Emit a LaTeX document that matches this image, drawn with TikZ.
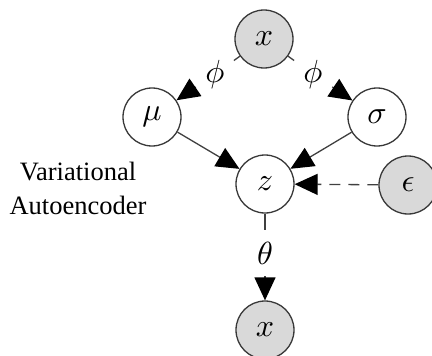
\documentclass[tikz,border=0pt]{standalone}
\usepackage{fontspec}
\setmainfont{Liberation Serif}
\usetikzlibrary{arrows.meta}
\newcommand{\mysym}[1]{\scalebox{3.2}{$#1$}}
\begin{document}
\begin{tikzpicture}[x=1pt,y=-1pt,
  var/.style={circle, draw=black!78, line width=1.3pt, minimum size=58pt, inner sep=0pt},
  obs/.style={var, fill=black!15},
  lat/.style={var, fill=white},
  plain/.style={draw=black!75, line width=1.3pt},
  edge/.style={plain, -{Triangle[length=23pt,width=21pt,black]}},
  lbl/.style={circle, minimum size=46pt, inner sep=0pt},
]
\useasboundingbox (0,0) rectangle (432,356);
\node[obs] (x) at (264,39) {\mysym{x}};
\node[lat] (mu) at (152,117) {\mysym{\mu}};
\node[lat] (sigma) at (377,117) {\mysym{\sigma}};
\node[lat] (z) at (265,184) {\mysym{z}};
\node[obs] (eps) at (408,185) {\mysym{\epsilon}};
\node[obs] (xo) at (265,330) {\mysym{x}};
\node[align=center, font=\fontsize{26.5}{34}\selectfont] (t) at (78,188) {Variational\\Autoencoder};

\node[lbl] (p1) at (215,74) {\mysym{\phi}};
\node[lbl] (p2) at (313,74) {\mysym{\phi}};
\node[lbl] (th) at (265,253) {\mysym{\theta}};

\draw[plain] (x) -- (p1);
\draw[edge] (p1) -- (mu);
\draw[plain] (x) -- (p2);
\draw[edge] (p2) -- (sigma);
\draw[edge] (mu) -- (z);
\draw[edge] (sigma) -- (z);
\draw[edge, dash pattern=on 11pt off 8pt] (eps) -- (z);
\draw[plain] (z) -- (th);
\draw[edge] (th) -- (xo);
\end{tikzpicture}
\end{document}
